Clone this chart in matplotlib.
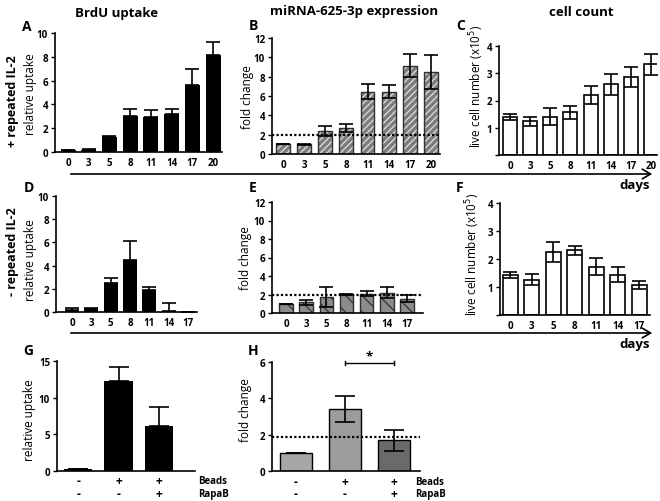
import matplotlib
matplotlib.use("Agg")
import matplotlib.pyplot as plt
import matplotlib.transforms as mtransforms
import numpy as np

plt.rcParams['font.family'] = ['Open Sans', 'DejaVu Sans']

W, H = 660, 502

days_plus = ["0", "3", "5", "8", "11", "14", "17", "20"]
days_minus = ["0", "3", "5", "8", "11", "14", "17"]

brdu_plus = [0.15, 0.18, 1.28, 3.05, 2.9, 3.2, 5.6, 8.15]
brdu_plus_err = [0.05, 0.07, 0.04, 0.6, 0.65, 0.4, 1.35, 1.1]

mir_plus = [1.0, 1.0, 2.35, 2.7, 6.45, 6.45, 9.15, 8.48]
mir_plus_err = [0.0, 0.04, 0.5, 0.42, 0.78, 0.7, 1.15, 1.73]

cells_plus = [1.4, 1.24, 1.41, 1.57, 2.2, 2.59, 2.86, 3.33]
cells_plus_err = [0.12, 0.17, 0.3, 0.24, 0.34, 0.37, 0.38, 0.39]

brdu_minus = [0.2, 0.29, 2.49, 4.5, 1.86, 0.12, 0.0]
brdu_minus_err = [0.14, 0.08, 0.41, 1.6, 0.3, 0.66, 0.0]

mir_minus = [1.0, 1.18, 1.73, 2.02, 2.09, 2.2, 1.55]
mir_minus_err = [0.0, 0.27, 1.08, 0.04, 0.3, 0.6, 0.35]

cells_minus = [1.43, 1.26, 2.26, 2.32, 1.72, 1.44, 1.07]
cells_minus_err = [0.12, 0.2, 0.36, 0.16, 0.3, 0.26, 0.15]

treat_uptake = [0.23, 12.27, 6.14]
treat_uptake_err = [0.0, 1.9, 2.63]
treat_fold = [1.0, 3.42, 1.68]
treat_fold_err = [0.0, 0.7, 0.58]
beads_row = ["-", "+", "+"]
rapab_row = ["-", "-", "+"]

threshold_B = 2.0
threshold_H = 1.85

fig = plt.figure(figsize=(W / 100, H / 100), dpi=100)


def add_ax(l, r, t, b):
    return fig.add_axes([l / W, 1 - b / H, (r - l) / W, (b - t) / H])


def style(ax, ymax, yticks, yticklabels=None):
    for s in ['top', 'right']:
        ax.spines[s].set_visible(False)
    for s in ['left', 'bottom']:
        ax.spines[s].set_linewidth(1.2)
    ax.set_ylim(0, ymax)
    ax.set_yticks(yticks)
    if yticklabels is not None:
        ax.set_yticklabels(yticklabels)
    ax.tick_params(axis='y', length=3, width=1.0, pad=2, labelsize=7)
    ax.tick_params(axis='x', length=0, pad=3.5, labelsize=7)
    for lab in ax.get_xticklabels() + ax.get_yticklabels():
        lab.set_fontweight('bold')


def ylab(ax, text, x_px, y_px, size=8.5):
    fig.text(x_px / W, 1 - y_px / H, text, rotation=90, ha='center', va='center',
             fontsize=size)


def letter(text, x_px, y_px):
    fig.text(x_px / W, 1 - y_px / H, text, ha='center', va='center',
             fontsize=10, fontweight='bold')


ekw = dict(elinewidth=1.2, capthick=1.2, ecolor='black')

# ---------- A ----------
axA = add_ax(55, 222, 34, 153)
x = np.arange(len(days_plus))
axA.bar(x, brdu_plus, width=0.72, color='black',
        yerr=[np.zeros(len(x)), brdu_plus_err], capsize=5, error_kw=ekw)
axA.set_xticks(x)
axA.set_xticklabels(days_plus)
axA.set_xlim(-0.63, 7.43)
style(axA, 10, [0, 2, 4, 6, 8, 10])
ylab(axA, "relative uptake", 31, 94)

# ---------- B ----------
axB = add_ax(272, 440, 39, 155)
axB.bar(x, mir_plus, width=0.66, color='#7c7c7c', edgecolor='#d8d8d8',
        hatch='/////', linewidth=0)
axB.bar(x, mir_plus, width=0.66, facecolor='none', edgecolor='#303030',
        linewidth=1.0, yerr=mir_plus_err, capsize=5, error_kw=ekw)
axB.axhline(threshold_B, color='black', linestyle=(0, (1, 1)), linewidth=1.6)
axB.set_xticks(x)
axB.set_xticklabels(days_plus)
axB.set_xlim(-0.52, 7.43)
style(axB, 12, [0, 2, 4, 6, 8, 10, 12])
ylab(axB, "fold change", 247, 97)

# ---------- C ----------
axC = add_ax(499, 657, 47, 156)
axC.bar(x, cells_plus, width=0.7, color='white', edgecolor='black',
        linewidth=1.2, yerr=cells_plus_err, capsize=5, error_kw=ekw)
axC.set_xticks(x)
axC.set_xticklabels(days_plus)
axC.set_xlim(-0.55, 7.3)
style(axC, 4, [0, 1, 2, 3, 4], ["", "1", "2", "3", "4"])
ylab(axC, "live cell number (x10$^5$)", 477, 86)

# ---------- D ----------
x2 = np.arange(len(days_minus))
axD = add_ax(56, 197, 197, 313)
axD.bar(x2, brdu_minus, width=0.72, color='black',
        yerr=[np.zeros(len(x2)), brdu_minus_err], capsize=5, error_kw=ekw)
axD.set_xticks(x2)
axD.set_xticklabels(days_minus)
axD.set_xlim(-0.83, 6.47)
style(axD, 10, [0, 2, 4, 6, 8, 10])
ylab(axD, "relative uptake", 31, 260)

# ---------- E ----------
axE = add_ax(272, 423, 203, 314)
axE.bar(x2, mir_minus, width=0.68, color='#8c8c8c', edgecolor='#3a3a3a',
        hatch='\\\\', linewidth=0)
axE.bar(x2, mir_minus, width=0.68, facecolor='none', edgecolor='#303030',
        linewidth=1.0, yerr=mir_minus_err, capsize=5, error_kw=ekw)
axE.axhline(threshold_B, color='black', linestyle=(0, (1, 1)), linewidth=1.6)
axE.set_xticks(x2)
axE.set_xticklabels(days_minus)
axE.set_xlim(-0.7, 6.8)
style(axE, 12, [0, 2, 4, 6, 8, 10, 12])
ylab(axE, "fold change", 245, 258)

# ---------- F ----------
axF = add_ax(500, 650, 204, 316)
axF.bar(x2, cells_minus, width=0.7, color='white', edgecolor='black',
        linewidth=1.2, yerr=cells_minus_err, capsize=5, error_kw=ekw)
axF.set_xticks(x2)
axF.set_xticklabels(days_minus)
axF.set_xlim(-0.47, 6.5)
style(axF, 4, [0, 1, 2, 3, 4], ["", "1", "2", "3", "4"])
ylab(axF, "live cell number (x10$^5$)", 473, 254)

# ---------- G ----------
x3 = np.arange(3)
axG = add_ax(57, 195, 362, 472)
axG.bar(x3, treat_uptake, width=0.7, color='black',
        yerr=[np.zeros(3), treat_uptake_err], capsize=7, error_kw=ekw)
axG.set_xlim(-0.53, 2.9)
axG.set_xticks([])
style(axG, 15, [0, 5, 10, 15])
ylab(axG, "relative uptake", 30, 420)
trG = mtransforms.blended_transform_factory(axG.transData, fig.transFigure)
for i in range(3):
    axG.text(x3[i], 1 - 482 / H, beads_row[i], transform=trG, ha='center',
             va='center', fontsize=8.5, fontweight='bold')
    axG.text(x3[i], 1 - 495 / H, rapab_row[i], transform=trG, ha='center',
             va='center', fontsize=8.5, fontweight='bold')
fig.text(198 / W, 1 - 482 / H, "Beads", ha='left', va='center', fontsize=7,
         fontweight='bold')
fig.text(198 / W, 1 - 495 / H, "RapaB", ha='left', va='center', fontsize=7,
         fontweight='bold')

# ---------- H ----------
axH = add_ax(272, 420, 363, 472)
hcols = ['#a6a6a6', '#9c9c9c', '#6a6a6a']
axH.bar(x3, treat_fold, width=0.67, color=hcols, edgecolor='black',
        linewidth=1.0, yerr=treat_fold_err, capsize=7, error_kw=ekw)
axH.axhline(threshold_H, color='black', linestyle=(0, (1, 1)), linewidth=1.6)
axH.set_xlim(-0.49, 2.53)
axH.set_xticks([])
style(axH, 6, [0, 2, 4, 6])
ylab(axH, "fold change", 245, 410)
axH.plot([1, 2], [5.96, 5.96], color='black', lw=1.0, clip_on=False)
axH.plot([1, 1], [5.85, 6.07], color='black', lw=1.0, clip_on=False)
axH.plot([2, 2], [5.85, 6.07], color='black', lw=1.0, clip_on=False)
axH.text(1.5, 6.0, "*", ha='center', va='bottom', fontsize=9.5, fontweight='bold')
trH = mtransforms.blended_transform_factory(axH.transData, fig.transFigure)
for i in range(3):
    axH.text(x3[i], 1 - 483 / H, beads_row[i], transform=trH, ha='center',
             va='center', fontsize=8.5, fontweight='bold')
    axH.text(x3[i], 1 - 495 / H, rapab_row[i], transform=trH, ha='center',
             va='center', fontsize=8.5, fontweight='bold')
fig.text(415 / W, 1 - 483 / H, "Beads", ha='left', va='center', fontsize=7,
         fontweight='bold')
fig.text(415 / W, 1 - 495 / H, "RapaB", ha='left', va='center', fontsize=7,
         fontweight='bold')

# ---------- arrows ----------
for yp in (175, 334):
    fig.add_artist(matplotlib.patches.FancyArrowPatch(
        (68 / W, 1 - yp / H), (655 / W, 1 - yp / H), transform=fig.transFigure,
        arrowstyle='->,head_length=6,head_width=3.5', color='black', lw=1.2,
        mutation_scale=1))
    fig.text(650 / W, 1 - (yp + 11) / H, "days", ha='right', va='center',
             fontsize=9.5, fontweight='bold')

# ---------- titles / letters / row labels ----------
fig.text(117 / W, 1 - 13 / H, "BrdU uptake", ha='center', va='center',
         fontsize=9.5, fontweight='bold')
fig.text(354 / W, 1 - 12 / H, "miRNA-625-3p expression", ha='center',
         va='center', fontsize=9.5, fontweight='bold')
fig.text(581 / W, 1 - 12 / H, "cell count", ha='center', va='center',
         fontsize=9.5, fontweight='bold')

letter("A", 27, 27)
letter("B", 253, 26)
letter("C", 461, 26)
letter("D", 29, 188)
letter("E", 253, 188)
letter("F", 460, 188)
letter("G", 28, 351)
letter("H", 253, 351)

fig.text(13 / W, 1 - 101 / H, "+ repeated IL-2", rotation=90, ha='center',
         va='center', fontsize=9, fontweight='bold')
fig.text(13 / W, 1 - 252 / H, "- repeated IL-2", rotation=90, ha='center',
         va='center', fontsize=9, fontweight='bold')

fig.savefig("out.png", dpi=100)
